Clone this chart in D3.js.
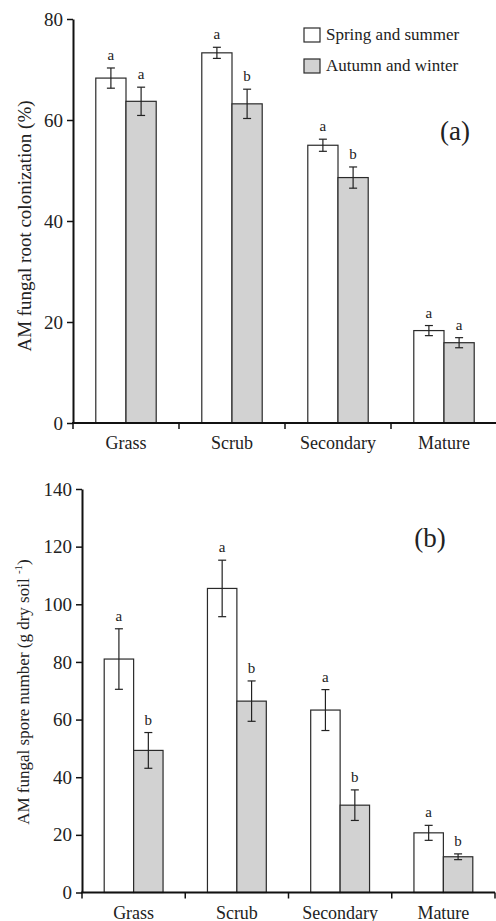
<!DOCTYPE html>
<html>
<head>
<meta charset="utf-8">
<script src="https://cdn.jsdelivr.net/npm/d3@7"></script>
<style>
  body { margin: 0; background: #fff; }
</style>
</head>
<body>
<div id="main"></div>
<script>

var width = 496,
    height = 921;

var categories = ["Grass", "Scrub", "Secondary", "Mature"];
var seasons = ["Spring and summer", "Autumn and winter"];

// panel (a) root colonization, %
var colonSpring = [68.3, 73.3, 55.0, 18.3];
var colonSpringErr = [2.0, 1.1, 1.2, 1.0];
var colonSpringSig = ["a", "a", "a", "a"];
var colonAutumn = [63.7, 63.2, 48.6, 15.9];
var colonAutumnErr = [2.8, 2.9, 2.1, 1.0];
var colonAutumnSig = ["a", "b", "b", "a"];
var colonTicks = [0, 20, 40, 60, 80];

// panel (b) spore number
var sporeSpring = [81.0, 105.5, 63.3, 20.7];
var sporeSpringErr = [10.5, 9.8, 7.1, 2.6];
var sporeSpringSig = ["a", "a", "a", "a"];
var sporeAutumn = [49.3, 66.4, 30.3, 12.4];
var sporeAutumnErr = [6.2, 7.0, 5.3, 1.0];
var sporeAutumnSig = ["b", "b", "b", "b"];
var sporeTicks = [0, 20, 40, 60, 80, 100, 120, 140];

var fills = { "Spring and summer": "#ffffff", "Autumn and winter": "#d2d2d2" };

var FONT = "'Liberation Serif', 'DejaVu Serif', 'Times New Roman', Times, serif";

var svg = d3.select("div#main")
    .append("svg")
    .attr("width", width)
    .attr("height", height)
    .style("display", "block")
    .attr("font-family", FONT);

function rows(vals, errs, sigs) {
    return categories.map(function(c, i) {
        return { cat: c, v: vals[i], e: errs[i], s: sigs[i] };
    });
}

function drawPanel(p) {
    var g = svg.append("g");

    var y = d3.scaleLinear().domain([0, p.ymax]).range([p.y0, p.y1]);
    var x = d3.scaleBand().domain(categories).range([p.x0, p.x1]);
    var bw = x.bandwidth();
    var xs = d3.scaleBand().domain(seasons).range([bw * 0.215, bw * 0.785]);

    var series = [
        { season: seasons[0], data: rows(p.spring, p.springErr, p.springSig) },
        { season: seasons[1], data: rows(p.autumn, p.autumnErr, p.autumnSig) }
    ];

    series.forEach(function(s) {
        var grp = g.append("g");
        grp.selectAll("rect")
            .data(s.data)
            .enter().append("rect")
            .attr("x", function(d) { return x(d.cat) + xs(s.season); })
            .attr("y", function(d) { return y(d.v); })
            .attr("width", xs.bandwidth())
            .attr("height", function(d) { return y(0) - y(d.v); })
            .attr("fill", fills[s.season])
            .attr("stroke", "#2a2a2a")
            .attr("stroke-width", 1.2);

        var cx = function(d) { return x(d.cat) + xs(s.season) + xs.bandwidth() / 2; };

        grp.selectAll("line.err")
            .data(s.data)
            .enter().append("line")
            .attr("class", "err")
            .attr("x1", cx).attr("x2", cx)
            .attr("y1", function(d) { return y(d.v + d.e); })
            .attr("y2", function(d) { return y(d.v - d.e); })
            .attr("stroke", "#222").attr("stroke-width", 1.2);

        [1, -1].forEach(function(sign) {
            grp.selectAll("line.cap" + sign)
                .data(s.data)
                .enter().append("line")
                .attr("x1", function(d) { return cx(d) - 4; })
                .attr("x2", function(d) { return cx(d) + 4; })
                .attr("y1", function(d) { return y(d.v + sign * d.e); })
                .attr("y2", function(d) { return y(d.v + sign * d.e); })
                .attr("stroke", "#222").attr("stroke-width", 1.2);
        });

        grp.selectAll("text.sig")
            .data(s.data)
            .enter().append("text")
            .attr("x", cx)
            .attr("y", function(d) { return y(d.v + d.e) - 8; })
            .attr("text-anchor", "middle")
            .attr("font-size", 15)
            .attr("fill", "#222")
            .text(function(d) { return d.s; });
    });

    // y axis
    var ya = g.append("g")
        .attr("transform", "translate(" + p.x0 + ",0)")
        .call(d3.axisLeft(y).tickValues(p.ticks).tickSize(6).tickSizeOuter(0).tickFormat(d3.format("d")))
        .attr("font-family", FONT)
        .attr("font-size", 19);
    ya.select(".domain").attr("stroke", "#111").attr("stroke-width", 2);
    ya.selectAll(".tick line").attr("stroke", "#111").attr("stroke-width", 1.5);
    ya.selectAll(".tick text")
        .attr("fill", "#222")
        .attr("x", -10);

    // x axis: ticks at category boundaries, names in the middle
    var xa = g.append("g").attr("transform", "translate(0," + p.y0 + ")");
    xa.append("line")
        .attr("x1", p.x0 - 1).attr("x2", p.x1)
        .attr("stroke", "#111").attr("stroke-width", 2);
    var bounds = categories.map(function(c) { return x(c); }).concat([p.x1]);
    xa.selectAll("line.bt")
        .data(bounds)
        .enter().append("line")
        .attr("x1", function(d) { return d; }).attr("x2", function(d) { return d; })
        .attr("y1", 0).attr("y2", 6)
        .attr("stroke", "#111").attr("stroke-width", 1.5);
    xa.selectAll("text")
        .data(categories)
        .enter().append("text")
        .attr("x", function(d) { return x(d) + bw / 2; })
        .attr("y", 26)
        .attr("text-anchor", "middle")
        .attr("font-size", 18)
        .attr("fill", "#222")
        .text(function(d) { return d; });

    // axis title
    var t = g.append("text")
        .attr("transform", "translate(" + p.titleX + "," + p.titleY + ") rotate(-90)")
        .attr("text-anchor", "middle")
        .attr("font-size", p.titleSize)
        .attr("fill", "#222");
    p.title(t);

    g.append("text")
        .attr("x", p.tagX).attr("y", p.tagY)
        .attr("text-anchor", "middle")
        .attr("font-size", 27)
        .attr("fill", "#222")
        .text(p.tag);

    return g;
}

drawPanel({
    x0: 73, x1: 497, y0: 423, y1: 19, ymax: 80,
    ticks: colonTicks,
    spring: colonSpring, springErr: colonSpringErr, springSig: colonSpringSig,
    autumn: colonAutumn, autumnErr: colonAutumnErr, autumnSig: colonAutumnSig,
    titleX: 31, titleY: 226, titleSize: 19,
    title: function(t) { t.text("AM fungal root colonization (%)"); },
    tag: "(a)", tagX: 455, tagY: 140
});

drawPanel({
    x0: 82, x1: 495, y0: 892.5, y1: 489, ymax: 140,
    ticks: sporeTicks,
    spring: sporeSpring, springErr: sporeSpringErr, springSig: sporeSpringSig,
    autumn: sporeAutumn, autumnErr: sporeAutumnErr, autumnSig: sporeAutumnSig,
    titleX: 29, titleY: 692, titleSize: 17,
    title: function(t) {
        t.append("tspan").text("AM fungal spore number (g dry soil ");
        t.append("tspan").attr("font-size", 11).attr("dy", -7).text("-1");
        t.append("tspan").attr("dy", 7).text(")");
    },
    tag: "(b)", tagX: 430, tagY: 547
});

// legend
var legend = svg.append("g");
legend.selectAll("rect")
    .data(seasons)
    .enter().append("rect")
    .attr("x", 304)
    .attr("y", function(d, i) { return 28 + i * 31; })
    .attr("width", 16).attr("height", 14)
    .attr("fill", function(d) { return fills[d]; })
    .attr("stroke", "#2a2a2a").attr("stroke-width", 1.2);
legend.selectAll("text")
    .data(seasons)
    .enter().append("text")
    .attr("x", 326)
    .attr("y", function(d, i) { return 40 + i * 31; })
    .attr("font-size", 17)
    .attr("fill", "#222")
    .text(function(d) { return d; });

</script>
</body>
</html>
